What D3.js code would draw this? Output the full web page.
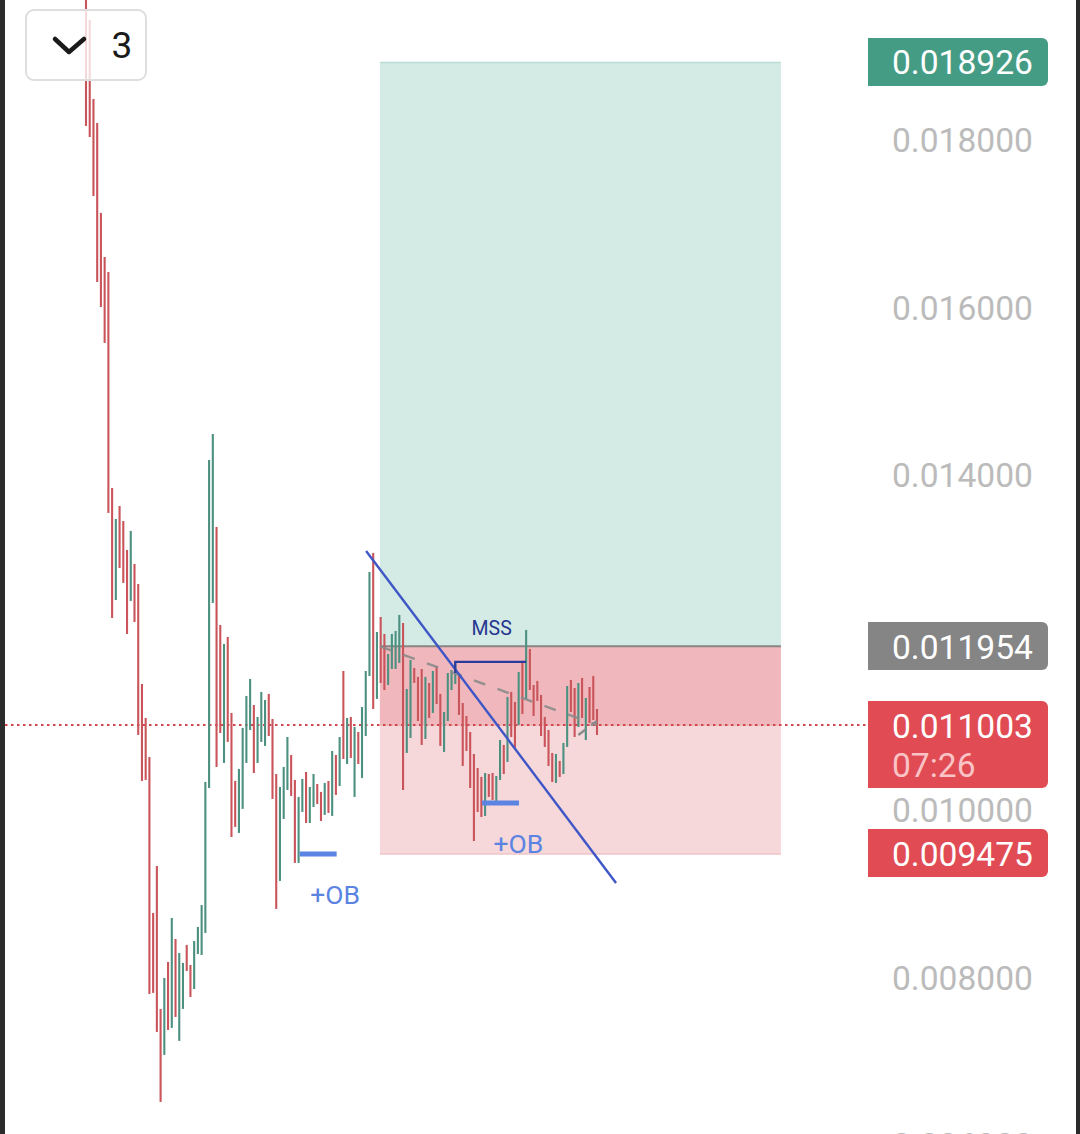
<!DOCTYPE html>
<html>
<head>
<meta charset="utf-8">
<script src="https://cdn.jsdelivr.net/npm/d3@7"></script>
<style>
  html, body { margin: 0; padding: 0; background: #fff; }
  svg { display: block; }
  text { font-family: Roboto, sans-serif; }
</style>
</head>
<body>
<svg id="chart" width="1080" height="1134"></svg>
<script>
'use strict';

const highs = [
  0.019672, 0.019433, 0.018490, 0.018203, 0.017129, 0.016603, 0.016424, 0.013845, 0.013475, 0.013630,
  0.013451, 0.013105, 0.013332, 0.012938, 0.012699, 0.011505, 0.011099, 0.010633, 0.008771, 0.009332,
  0.007625, 0.007995, 0.008186, 0.008711, 0.008460, 0.008293, 0.008174, 0.008389, 0.008150, 0.008436,
  0.008604, 0.008866, 0.010335, 0.014180, 0.014490, 0.013380, 0.012209, 0.011983, 0.012066, 0.011159,
  0.010347, 0.010490, 0.010980, 0.011362, 0.011565, 0.011254, 0.011111, 0.011410, 0.011314, 0.011386,
  0.011087, 0.010430, 0.010275, 0.010514, 0.010872, 0.010657, 0.010359, 0.010156, 0.010371, 0.010454,
  0.010275, 0.010430, 0.010311, 0.010216, 0.010323, 0.010347, 0.010705, 0.010657, 0.010872, 0.011660,
  0.011099, 0.011111, 0.010992, 0.010932, 0.011230, 0.011660, 0.012842, 0.013069, 0.012126, 0.012305,
  0.012102, 0.011863, 0.012102, 0.012138, 0.012329, 0.012233, 0.011445, 0.011792, 0.011696, 0.011589,
  0.011684, 0.011589, 0.011517, 0.011660, 0.011720, 0.011386, 0.011171, 0.011636, 0.011672, 0.011768,
  0.011636, 0.011278, 0.011123, 0.010932, 0.010669, 0.010502, 0.010395, 0.010442, 0.010430, 0.010442,
  0.010406, 0.010836, 0.010777, 0.011350, 0.011410, 0.011290, 0.011648, 0.011768, 0.012150, 0.011923,
  0.011493, 0.011541, 0.011374, 0.011111, 0.010956, 0.010681, 0.010669, 0.010586, 0.010801, 0.011481,
  0.011553, 0.011457, 0.011517, 0.011577, 0.011338, 0.011469, 0.011601, 0.011206
];
const lows = [
  0.018168, 0.018036, 0.017332, 0.016305, 0.016006, 0.015577, 0.013547, 0.012293, 0.012508, 0.012890,
  0.012711, 0.012102, 0.012496, 0.012245, 0.010896, 0.010347, 0.010359, 0.007804, 0.007816, 0.007350,
  0.006514, 0.007075, 0.007374, 0.007398, 0.007529, 0.007243, 0.007625, 0.008078, 0.007768, 0.007863,
  0.008281, 0.008269, 0.008532, 0.010263, 0.012472, 0.010514, 0.010920, 0.010562, 0.010813, 0.009678,
  0.009798, 0.009726, 0.010013, 0.010562, 0.010956, 0.010442, 0.010562, 0.010813, 0.010765, 0.010884,
  0.010132, 0.008819, 0.009153, 0.009893, 0.010239, 0.010168, 0.009368, 0.009368, 0.009977, 0.009845,
  0.009845, 0.010036, 0.010072, 0.009869, 0.009941, 0.009965, 0.009929, 0.010180, 0.010287, 0.010609,
  0.010550, 0.010621, 0.010156, 0.010550, 0.010383, 0.010884, 0.011600, 0.011206, 0.011326, 0.011517,
  0.011433, 0.011493, 0.011684, 0.011684, 0.011756, 0.010239, 0.010681, 0.010860, 0.011517, 0.011063,
  0.010777, 0.010848, 0.011099, 0.011159, 0.011266, 0.010765, 0.010693, 0.011063, 0.011433, 0.011505,
  0.011135, 0.010526, 0.010705, 0.010263, 0.009630, 0.009977, 0.009917, 0.009929, 0.010156, 0.010120,
  0.010108, 0.010359, 0.010430, 0.010574, 0.010872, 0.010741, 0.011015, 0.011147, 0.011314, 0.011433,
  0.011123, 0.011302, 0.010884, 0.010753, 0.010526, 0.010335, 0.010323, 0.010395, 0.010430, 0.010753,
  0.011171, 0.010872, 0.010992, 0.011099, 0.010836, 0.011039, 0.011075, 0.010896
];
// r = falling bar, g = rising bar
const sides = (
  'rrrrrrrrgr' + 'rrgrrrrrrr' + 'rgrgrggrrg' + 'gggggrrgrr' + 'rggggrgggr' +
  'rrgggrrggr' + 'ggrrgrgrgr' + 'grgrgggrgr' + 'rggggrggrr' + 'rgrgrrgggg' +
  'rrrrrrrgrr' + 'ggrgrrgrgr' + 'rrrrrrgrgg' + 'rrgrgrrr'
).split('');

// 0.012000 sits behind the entry label in the picture, so it is left out
const priceTicks = [0.018, 0.016, 0.014, 0.010, 0.008, 0.006];

const targetPrice = 0.018926;
const entryPrice = 0.011954;
const lastPrice = 0.011003;
const stopPrice = 0.009475;
const countdown = '07:26';
const positionBars = [78.8, 186.3];

const trendBars = [75.1, 142.1];
const trendPrices = [0.013093, 0.009129];
const dashBars = [78.8, 137];
const dashPrices = [0.011954, 0.011015];
const dashBackBars = [132, 137];
const dashBackPrices = [0.010896, 0.011063];
const mssBars = [99, 118];
const mssPrices = [0.011636, 0.011768];
const orderBlocks = [
  { bars: [57.3, 67.2], price: 0.009475, label: '+OB', labelBar: 66.8, labelPrice: 0.008883 },
  { bars: [106.2, 116.1], price: 0.010084, label: '+OB', labelBar: 115.9, labelPrice: 0.009483 }
];

const RED = '#c9545a';
const GREEN = '#4c9080';

const svg = d3.select('#chart');

const x = d3.scaleLinear().domain([0, highs.length - 1]).range([86, 597]);
const y = d3.scaleLinear().domain([0.008, 0.018]).range([977.5, 140]);

// position tool
const zones = svg.append('g');
function zone(top, bottom, fill) {
  zones.append('rect')
    .attr('x', x(positionBars[0]))
    .attr('width', x(positionBars[1]) - x(positionBars[0]))
    .attr('y', y(top))
    .attr('height', y(bottom) - y(top))
    .attr('fill', fill);
}
zone(targetPrice, entryPrice, '#d3eae5');
zone(entryPrice, stopPrice, '#f6d7da');
zone(entryPrice, lastPrice, '#f0b8bc');

function hLine(price, color, width) {
  zones.append('line')
    .attr('x1', x(positionBars[0]))
    .attr('x2', x(positionBars[1]))
    .attr('y1', y(price))
    .attr('y2', y(price))
    .attr('stroke', color)
    .attr('stroke-width', width);
}
hLine(targetPrice, '#b9dcd4', 1.5);
hLine(stopPrice, '#eec4c8', 1.5);
hLine(entryPrice, '#8a8585', 2);

// last price line
svg.append('line')
  .attr('x1', 5)
  .attr('x2', 868)
  .attr('y1', y(lastPrice) - 1)
  .attr('y2', y(lastPrice) - 1)
  .attr('stroke', '#d0484f')
  .attr('stroke-width', 1.8)
  .attr('stroke-dasharray', '2.5 3.5');

// bars
svg.append('g')
  .selectAll('line')
  .data(highs)
  .join('line')
  .attr('x1', (d, i) => x(i))
  .attr('x2', (d, i) => x(i))
  .attr('y1', (d) => y(d))
  .attr('y2', (d, i) => y(lows[i]))
  .attr('stroke', (d, i) => (sides[i] === 'g' ? GREEN : RED))
  .attr('stroke-width', 2.1);

// drawings
const pathLine = d3.line().x((d) => x(d[0])).y((d) => y(d[1]));

svg.append('path')
  .attr('d', pathLine(d3.zip(dashBars, dashPrices)))
  .attr('fill', 'none')
  .attr('stroke', '#8b8b8b')
  .attr('stroke-width', 2.4)
  .attr('stroke-dasharray', '12 13')
  .attr('opacity', 0.9);

svg.append('path')
  .attr('d', pathLine(d3.zip(dashBackBars, dashBackPrices)))
  .attr('fill', 'none')
  .attr('stroke', '#8b8b8b')
  .attr('stroke-width', 2.4)
  .attr('stroke-dasharray', '9 7');

svg.append('path')
  .attr('d', pathLine(d3.zip(trendBars, trendPrices)))
  .attr('fill', 'none')
  .attr('stroke', '#3f56c6')
  .attr('stroke-width', 2.4);

svg.append('path')
  .attr('d', pathLine([
    [mssBars[0], mssPrices[0]],
    [mssBars[0], mssPrices[1]],
    [mssBars[1], mssPrices[1]]
  ]))
  .attr('fill', 'none')
  .attr('stroke', '#2b3a9c')
  .attr('stroke-width', 2.2);

svg.append('text')
  .attr('x', x(d3.mean(mssBars)) + 1)
  .attr('y', 635)
  .attr('text-anchor', 'middle')
  .attr('font-size', 19.5)
  .attr('fill', '#26358f')
  .text('MSS');

orderBlocks.forEach((ob) => {
  svg.append('line')
    .attr('x1', x(ob.bars[0]))
    .attr('x2', x(ob.bars[1]))
    .attr('y1', y(ob.price))
    .attr('y2', y(ob.price))
    .attr('stroke', '#5b84e2')
    .attr('stroke-width', 5);
  svg.append('text')
    .attr('x', x(ob.labelBar))
    .attr('y', y(ob.labelPrice))
    .attr('text-anchor', 'middle')
    .attr('font-size', 26.5)
    .attr('fill', '#5b84e2')
    .text(ob.label);
});

// price axis
const axis = svg.append('g')
  .attr('transform', 'translate(892,1)')
  .call(d3.axisRight(y).tickValues(priceTicks).tickFormat((d) => d.toFixed(6)).tickSize(0).tickPadding(0));
axis.select('.domain').remove();
axis.selectAll('text')
  .attr('font-size', 33.6)
  .attr('font-family', 'Roboto, sans-serif')
  .attr('fill', '#bbbbbb');

// price labels
function priceLabel(top, height, fill, lines) {
  svg.append('path')
    .attr('d', `M868,${top}H1042a6,6 0 0 1 6,6V${top + height - 6}a6,6 0 0 1 -6,6H868Z`)
    .attr('fill', fill);
  lines.forEach((line) => {
    svg.append('text')
      .attr('x', 892)
      .attr('y', line.y)
      .attr('font-size', 33.6)
      .attr('fill', line.color)
      .text(line.text);
  });
}
priceLabel(38, 48, '#459c85', [{ text: targetPrice.toFixed(6), y: 74, color: '#fff' }]);
priceLabel(622, 48, '#858585', [{ text: entryPrice.toFixed(6), y: 659, color: '#fff' }]);
priceLabel(701, 87, '#e04b54', [
  { text: lastPrice.toFixed(6), y: 738, color: '#fff' },
  { text: countdown, y: 777, color: '#fac3c6' }
]);
priceLabel(829, 48, '#e04b54', [{ text: stopPrice.toFixed(6), y: 866, color: '#fff' }]);

// interval button
svg.append('rect')
  .attr('x', 26)
  .attr('y', 10)
  .attr('width', 120)
  .attr('height', 70)
  .attr('rx', 8)
  .attr('fill', 'rgba(255,255,255,0.78)')
  .attr('stroke', '#dedede')
  .attr('stroke-width', 2);
svg.append('path')
  .attr('d', 'M55,39L69,52L84,39')
  .attr('fill', 'none')
  .attr('stroke', '#1a1a1a')
  .attr('stroke-width', 4.5)
  .attr('stroke-linecap', 'round')
  .attr('stroke-linejoin', 'round');
svg.append('text')
  .attr('x', 122)
  .attr('y', 58)
  .attr('text-anchor', 'middle')
  .attr('font-size', 37)
  .attr('fill', '#1a1a1a')
  .text('3');

// phone screen edges
svg.append('rect').attr('x', 0).attr('y', 0).attr('width', 5).attr('height', 1134).attr('fill', '#2b2b2b');
svg.append('rect').attr('x', 1076).attr('y', 0).attr('width', 4).attr('height', 1134).attr('fill', '#2b2b2b');
</script>
</body>
</html>
